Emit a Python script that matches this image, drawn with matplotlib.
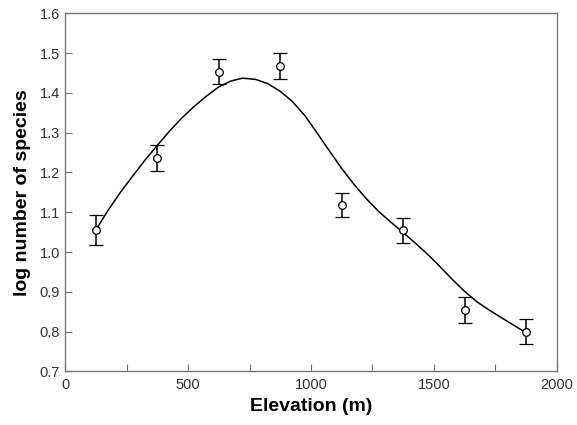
import numpy as np
import matplotlib.pyplot as plt

# observed means and standard errors
elevation = [125, 375, 625, 875, 1125, 1375, 1625, 1875]
log_species = [1.056, 1.236, 1.453, 1.468, 1.118, 1.055, 0.854, 0.800]
std_err = [0.037, 0.032, 0.031, 0.032, 0.031, 0.031, 0.032, 0.031]

# fitted curve
curve_x = [125, 175, 225, 275, 325, 375, 425, 475, 525, 575, 625, 675, 722,
           775, 825, 875, 925, 975, 1025, 1075, 1125, 1175, 1225, 1275, 1325,
           1375, 1425, 1475, 1525, 1575, 1625, 1675, 1725, 1775, 1825, 1875]
curve_y = [1.055, 1.105, 1.150, 1.191, 1.231, 1.268, 1.304, 1.337, 1.366, 1.392,
           1.415, 1.430, 1.437, 1.434, 1.423, 1.404, 1.378, 1.343, 1.299, 1.254,
           1.210, 1.170, 1.134, 1.102, 1.075, 1.049, 1.022, 0.994, 0.963, 0.931,
           0.901, 0.875, 0.854, 0.835, 0.816, 0.797]

plt.rcParams['font.family'] = ['Liberation Sans', 'DejaVu Sans']

fig = plt.figure(figsize=(5.77, 4.25), dpi=100)
ax = fig.add_axes([0.1127, 0.1259, 0.8526, 0.8428])

ax.plot(curve_x, curve_y, color='black', lw=1.1, zorder=2)
ax.errorbar(elevation, log_species, yerr=std_err, fmt='o', ms=5.5,
            mfc='white', mec='black', mew=0.9, ecolor='black', elinewidth=1.1,
            capsize=5, capthick=1.1, zorder=3)

ax.set_xlim(0, 2000)
ax.set_ylim(0.7, 1.6)
ax.set_xticks([0, 500, 1000, 1500, 2000])
ax.set_xticks([250, 750, 1250, 1750], minor=True)
ax.set_yticks(np.arange(0.7, 1.61, 0.1))
ax.set_yticklabels(['%.1f' % v for v in np.arange(0.7, 1.61, 0.1)])

ax.tick_params(which='both', direction='in', length=5, width=0.8, color='#777777',
               labelsize=10.5, labelcolor='#333333', top=False, right=False)
ax.tick_params(axis='x', pad=5)
for s in ax.spines.values():
    s.set_color('#777777')
    s.set_linewidth(1.0)

ax.set_xlabel('Elevation (m)', fontsize=14, fontweight='bold', labelpad=4)
ax.set_ylabel('log number of species', fontsize=14, fontweight='bold', labelpad=6)

plt.savefig('out.png', dpi=100)
